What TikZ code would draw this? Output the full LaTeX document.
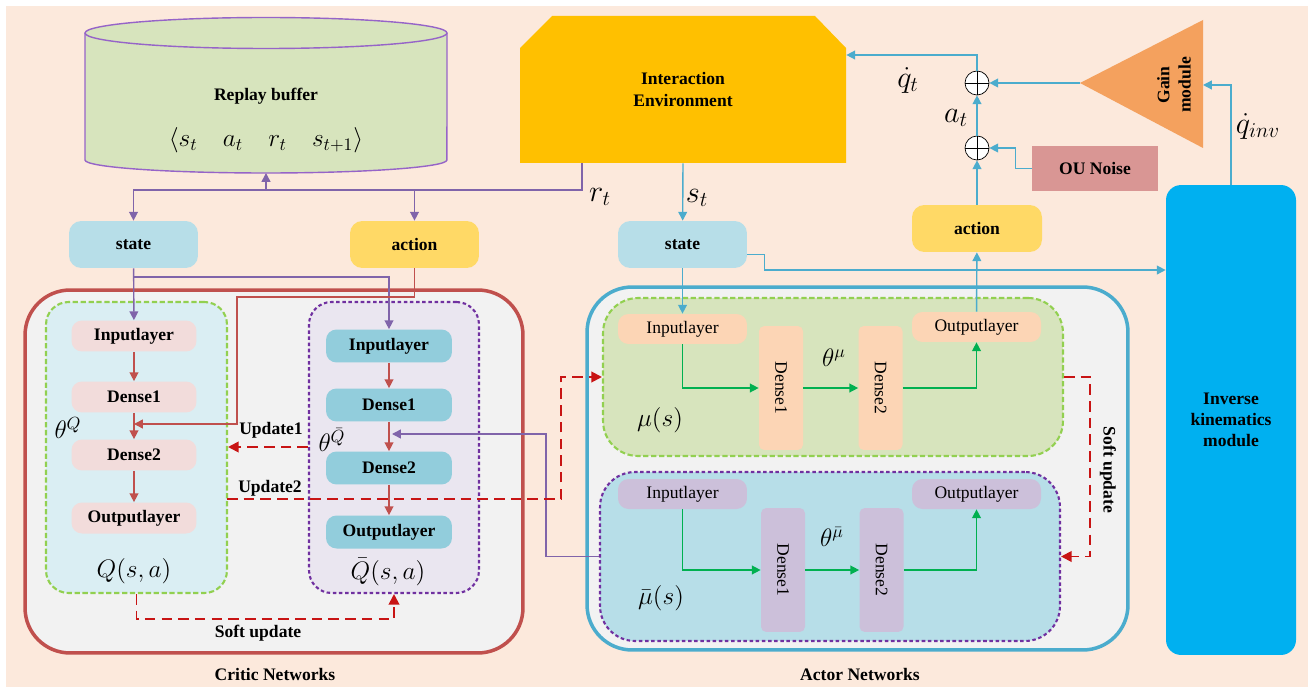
\documentclass[tikz,border=0pt]{standalone}
\usepackage{fontspec}
\setmainfont{Liberation Serif}
\usetikzlibrary{arrows.meta,positioning}

\definecolor{bgpeach}{RGB}{252,233,220}
\definecolor{bufgreen}{RGB}{215,228,189}
\definecolor{bufline}{RGB}{150,100,200}
\definecolor{envyel}{RGB}{255,192,0}
\definecolor{gainor}{RGB}{244,161,94}
\definecolor{ounoise}{RGB}{217,150,148}
\definecolor{ikblue}{RGB}{0,176,240}
\definecolor{statebl}{RGB}{183,222,232}
\definecolor{actyel}{RGB}{255,217,102}
\definecolor{purpl}{RGB}{128,100,170}
\definecolor{cyanl}{RGB}{75,172,205}
\definecolor{critred}{RGB}{192,80,77}
\definecolor{dashred}{RGB}{200,20,20}
\definecolor{grdash}{RGB}{146,208,80}
\definecolor{pudash}{RGB}{112,48,160}
\definecolor{boxgray}{RGB}{242,242,242}
\definecolor{qfill}{RGB}{218,238,243}
\definecolor{tqfill}{RGB}{234,230,240}
\definecolor{pinkl}{RGB}{242,220,219}
\definecolor{tealn}{RGB}{146,205,220}
\definecolor{mufill}{RGB}{215,228,189}
\definecolor{tmufill}{RGB}{183,222,232}
\definecolor{peachn}{RGB}{252,213,181}
\definecolor{lavn}{RGB}{204,192,218}
\definecolor{greenar}{RGB}{0,176,80}

\begin{document}
\begin{tikzpicture}[x=0.02cm, y=-0.02cm,
	>={Triangle[length=5pt,width=5pt]},
	inbox/.style={rounded corners=7pt, font=\bfseries, minimum width=2.58cm, minimum height=0.94cm, inner sep=0pt},
	clayer/.style={rounded corners=6pt, font=\bfseries, fill=pinkl, minimum width=2.5cm, minimum height=0.62cm, inner sep=0pt},
	tlayer/.style={clayer, fill=tealn, minimum width=2.52cm, minimum height=0.66cm},
	alayer/.style={rounded corners=6pt, minimum width=2.58cm, minimum height=0.6cm, inner sep=0pt},
	dlayer/.style={rotate=-90, minimum width=2.48cm, minimum height=0.88cm, inner sep=0pt, rounded corners=3pt},
	netbox/.style={line width=1.2pt, rounded corners=0.45cm},
	sumnode/.style={circle, draw, fill=white, minimum size=0.48cm, inner sep=0pt,
		path picture={\draw (path picture bounding box.north) -- (path picture bounding box.south)
			(path picture bounding box.west) -- (path picture bounding box.east);}},
	purp/.style={draw=purpl, line width=0.8pt},
	cyan/.style={draw=cyanl, line width=0.8pt},
	redl/.style={draw=critred, line width=0.8pt},
	grn/.style={draw=greenar, line width=0.8pt},
	dashr/.style={draw=dashred, line width=1.1pt, dash pattern=on 6pt off 3.5pt, >={Triangle[length=6pt,width=6pt]}}]

	\useasboundingbox (0,0) rectangle (1308,689);
	\fill[white] (0,0) rectangle (1308,689);
	\fill[bgpeach] (6,6) rectangle (1308,687);

	% replay buffer
	\fill[bufgreen] (85,33) -- (85,160) arc[start angle=180, end angle=360, x radius=3.62cm, y radius=0.26cm] -- (447,33) -- cycle;
	\draw[bufline, line width=0.8pt] (85,33) -- (85,160) arc[start angle=180, end angle=360, x radius=3.62cm, y radius=0.26cm] -- (447,33);
	\draw[bufline, line width=0.8pt, fill=bufgreen] (266,33) ellipse [x radius=3.62cm, y radius=0.31cm];
	\node[font=\bfseries] (buf) at (266,96) {Replay buffer};
	\node[font=\Large] (tuple) at (266,140) {$\langle s_t \quad a_t \quad r_t \quad s_{t+1}\rangle$};
	\coordinate (bufbot) at (266,173);

	% environment
	\fill[envyel] (520,163) -- (520,48) -- (552,16) -- (815,16) -- (846,48) -- (846,163) -- cycle;
	\node[font=\bfseries, align=center, minimum width=6.52cm, minimum height=2.94cm, inner sep=0pt] (env) at (683,89.5) {Interaction\\Environment};
	\coordinate (rt) at (582,163);
	\coordinate (j) at (266,190);

	\node[inbox, fill=statebl] (cstate) at (133.5,244.5) {state};
	\node[inbox, fill=actyel] (caction) at (414.5,244.5) {action};
	\node[inbox, fill=statebl] (astate) at (682.5,244.5) {state};
	\node[inbox, fill=actyel, minimum width=2.6cm] (aaction) at (977,228.5) {action};

	\node[font=\LARGE] (rtl) at (600,197) {$r_t$};
	\node[font=\LARGE] (stl) at (697,198) {$s_t$};

	% critic
	\node[draw=critred, line width=2pt, fill=boxgray, rounded corners=0.9cm, minimum width=9.96cm, minimum height=7.26cm] (critic) at (274,471.5) {};
	\node[font=\bfseries] (criticl) at (275,674) {Critic Networks};
	\node[netbox, fill=qfill, draw=grdash, dash pattern=on 3pt off 1.5pt, minimum width=3.62cm, minimum height=5.82cm] (qbox) at (136.5,447.5) {};
	\node[netbox, fill=tqfill, draw=pudash, dash pattern=on 2pt off 1.5pt, minimum width=3.4cm, minimum height=5.82cm] (tqbox) at (394,447.5) {};

	\node[clayer] (cin1) at (134,336) {Inputlayer};
	\node[clayer] (cd1) at (134,397) {Dense1};
	\node[clayer] (cd2) at (134,455) {Dense2};
	\node[clayer] (cout) at (134,518) {Outputlayer};
	\node[tlayer] (tin1) at (389,346) {Inputlayer};
	\node[tlayer] (td1) at (389,405) {Dense1};
	\node[tlayer] (td2) at (389,468) {Dense2};
	\node[tlayer] (tout) at (389,532) {Outputlayer};

	\node[font=\Large] (thq) at (68,428) {$\theta^{Q}$};
	\node[font=\Large] (thtq) at (332,440) {$\theta^{\bar{Q}}$};
	\node[font=\Large] (qsa) at (134,571) {$Q(s,a)$};
	\node[font=\Large] (tqsa) at (388,572) {$\bar{Q}(s,a)$};
	\node[font=\bfseries] (up1) at (271,430) {Update1};
	\node[font=\bfseries] (up2) at (270,488) {Update2};
	\node[font=\bfseries] (softc) at (258,633) {Soft update};

	% actor
	\node[draw=cyanl, line width=2pt, fill=boxgray, rounded corners=0.9cm, minimum width=10.82cm, minimum height=7.26cm] (actor) at (857.5,468.5) {};
	\node[font=\bfseries] (actorl) at (860,674) {Actor Networks};
	\node[netbox, fill=mufill, draw=grdash, dash pattern=on 3pt off 1.5pt, rounded corners=0.7cm, minimum width=9.2cm, minimum height=3.16cm] (mubox) at (833,377) {};
	\node[netbox, fill=tmufill, draw=pudash, dash pattern=on 2pt off 1.5pt, rounded corners=0.7cm, minimum width=9.2cm, minimum height=3.38cm] (tmubox) at (830,556.5) {};

	\node[alayer, fill=peachn] (ain1) at (682.5,329) {Inputlayer};
	\node[alayer, fill=peachn] (aout) at (976.5,327) {Outputlayer};
	\node[dlayer, fill=peachn] (ad1) at (781,388) {Dense1};
	\node[dlayer, fill=peachn] (ad2) at (880.5,388) {Dense2};
	\node[alayer, fill=lavn] (bin1) at (682.5,494) {Inputlayer};
	\node[alayer, fill=lavn] (bout) at (976.5,494) {Outputlayer};
	\node[dlayer, fill=lavn] (bd1) at (783,570) {Dense1};
	\node[dlayer, fill=lavn] (bd2) at (881.5,570) {Dense2};

	\node[font=\Large] (thmu) at (834,358) {$\theta^{\mu}$};
	\node[font=\Large] (thtmu) at (832,537) {$\theta^{\bar{\mu}}$};
	\node[font=\Large] (mus) at (660,420) {$\mu(s)$};
	\node[font=\Large] (tmus) at (661,598) {$\bar{\mu}(s)$};
	\node[font=\bfseries, rotate=-90] (softa) at (1108,470) {Soft update};

	% right part
	\node[rounded corners=0.3cm, fill=ikblue, font=\bfseries, align=center, minimum width=2.6cm, minimum height=9.4cm] (ik) at (1231,420) {Inverse\\kinematics\\module};
	\node[fill=ounoise, font=\bfseries, minimum width=2.52cm, minimum height=0.9cm] (ou) at (1095,168.5) {OU Noise};
	\fill[gainor] (1080,83) -- (1203,20) -- (1203,148) -- cycle;
	\coordinate (gtip) at (1080,83);
	\coordinate (gright) at (1203,85);
	\node[font=\bfseries, rotate=90, align=center] (gain) at (1174,85) {Gain\\module};
	\node[sumnode] (sum1) at (977,83) {};
	\node[sumnode] (sum2) at (977,148) {};
	\node[font=\LARGE] (qdl) at (908,80) {$\dot{q}_t$};
	\node[font=\LARGE] (atl) at (956,118) {$a_t$};
	\node[font=\LARGE] (qinvl) at (1258,126) {$\dot{q}_{inv}$};

	% connectors
	\draw[purp] (rt) |- (j);
	\draw[purp, ->] (j) -- (bufbot);
	\draw[purp, ->] (j) -| (cstate);
	\draw[purp, ->] (j) -| (caction);
	\draw[purp, ->] (cstate) -- (cin1);
	\coordinate (sj) at (134,277);
	\draw[purp, ->] (sj) -| (tin1);
	\coordinate (cmid) at (134,424);
	\draw[redl, ->] (caction) |- (237,297) |- (cmid);
	\coordinate (qmid) at (392,434);
	\draw[purp, ->] (tmubox.west) -- ++(-53,0) |- (qmid);

	\path
	(cin1) edge[redl, ->] (cd1)
	(cd1) edge[redl, ->] (cd2)
	(cd2) edge[redl, ->] (cout)
	(tin1) edge[redl, ->] (td1)
	(td1) edge[redl, ->] (td2)
	(td2) edge[redl, ->] (tout);

	\draw[dashr, ->] ([yshift=0.01cm]tqbox.west) -- ([yshift=0.01cm]qbox.east);
	\coordinate (u2) at (227,499);
	\draw[dashr, ->] (u2) -- ++(334,0) |- (mubox.west);
	\draw[dashr, ->] (qbox.south) -- ++(0,25) -| (tqbox.south);
	\draw[dashr, ->] (mubox.east) -- ++(26,0) |- (tmubox.east);

	\draw[grn, ->] (ain1) |- (ad1);
	\draw[grn, ->] (ad1) -- (ad2);
	\draw[grn, ->] (ad2) -| (aout);
	\draw[grn, ->] (bin1) |- (bd1);
	\draw[grn, ->] (bd1) -- (bd2);
	\draw[grn, ->] (bd2) -| (bout);

	\draw[cyan, ->] (env.south) -- (astate);
	\draw[cyan, ->] (astate) -- (ain1);
	\draw[cyan, ->] ([yshift=-0.2cm]astate.east) -- ++(17,0) |- ([yshift=3cm]ik.west);
	\draw[cyan, ->] (aout) -- (aaction);
	\draw[cyan, ->] (aaction) -- (sum2);
	\draw[cyan, ->] (sum2) -- (sum1);
	\draw[cyan, ->] (sum1) |- ([yshift=0.69cm]env.east);
	\draw[cyan, ->] (gtip) -- (sum1);
	\draw[cyan, ->] (ou.west) -- ++(-16,0) |- (sum2);
	\draw[cyan, ->] (ik.north) |- (gright);
\end{tikzpicture}
\end{document}
